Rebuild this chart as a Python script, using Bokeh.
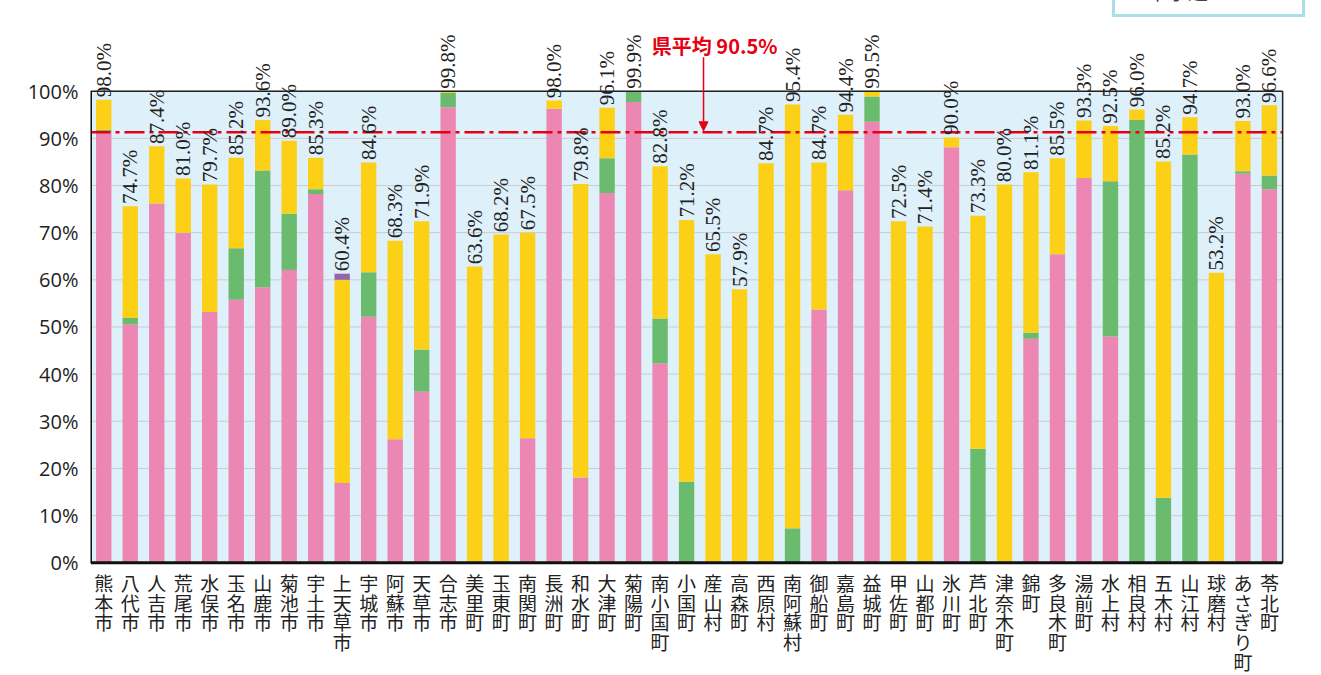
import math
from bokeh.plotting import figure
from bokeh.models import (ColumnDataSource, Range1d, FixedTicker, PrintfTickFormatter,
                          LabelSet, Label, Arrow, NormalHead, Legend, LegendItem, BoxAnnotation)
from bokeh.embed import file_html
from bokeh.resources import INLINE
from bokeh.core.properties import value

municipalities = ["熊本市", "八代市", "人吉市", "荒尾市", "水俣市", "玉名市", "山鹿市", "菊池市", "宇土市",
                  "上天草市", "宇城市", "阿蘇市", "天草市", "合志市", "美里町", "玉東町", "南関町", "長洲町",
                  "和水町", "大津町", "菊陽町", "南小国町", "小国町", "産山村", "高森町", "西原村", "南阿蘇村",
                  "御船町", "嘉島町", "益城町", "甲佐町", "山都町", "氷川町", "芦北町", "津奈木町", "錦町",
                  "多良木町", "湯前町", "水上村", "相良村", "五木村", "山江村", "球磨村", "あさぎり町", "苓北町"]

# 下水道 (pink)
sewer = [91.3, 50.6, 76.2, 70.0, 53.2, 55.8, 58.4, 62.1, 78.2, 16.9, 52.2, 26.2, 36.3, 96.6,
         0, 0, 26.4, 96.3, 18.1, 78.4, 97.7, 42.3, 0, 0, 0, 0, 0, 53.7, 79.0, 93.5,
         0, 0, 88.1, 0, 0, 47.5, 65.4, 81.6, 48.0, 0, 0, 0, 0, 82.5, 79.2]
# 農業集落排水施設等 (green)
rural = [0.5, 1.3, 0, 0, 0, 10.9, 24.8, 11.9, 1.0, 0, 9.4, 0, 8.9, 3.0,
         0, 0, 0, 0, 0, 7.4, 2.3, 9.5, 17.2, 0, 0, 0, 7.3, 0, 0, 5.4,
         0, 0, 0, 24.2, 0, 1.3, 0, 0, 32.9, 93.9, 13.8, 86.6, 0, 0.5, 2.9]
# 合併処理浄化槽 (yellow)
septic = [6.4, 23.7, 12.1, 11.5, 27.0, 19.2, 10.7, 15.5, 6.7, 43.1, 23.3, 42.1, 27.2, 0.4,
          62.8, 69.6, 43.6, 1.7, 62.2, 10.7, 0, 32.3, 55.5, 65.4, 58.0, 84.7, 89.9, 31.2, 16.0, 1.1,
          72.4, 71.3, 2.1, 49.4, 80.2, 34.0, 20.4, 12.2, 11.7, 2.2, 71.3, 7.9, 61.5, 10.7, 14.9]
# コミュニティ・プラント (purple)
community = [0, 0, 0, 0, 0, 0, 0, 0, 0, 1.3, 0, 0, 0, 0,
             0, 0, 0, 0, 0, 0, 0, 0, 0, 0, 0, 0, 0, 0, 0, 0,
             0, 0, 0, 0, 0, 0, 0, 0, 0, 0, 0, 0, 0, 0, 0]
rate_labels = [98.0, 74.7, 87.4, 81.0, 79.7, 85.2, 93.6, 89.0, 85.3, 60.4, 84.6, 68.3, 71.9, 99.8,
               63.6, 68.2, 67.5, 98.0, 79.8, 96.1, 99.9, 82.8, 71.2, 65.5, 57.9, 84.7, 95.4, 84.7, 94.4, 99.5,
               72.5, 71.4, 90.0, 73.3, 80.0, 81.1, 85.5, 93.3, 92.5, 96.0, 85.2, 94.7, 53.2, 93.0, 96.6]
y_ticks = [0, 10, 20, 30, 40, 50, 60, 70, 80, 90, 100]
pref_avg_text = "県平均 90.5%"
pref_avg_drawn = 91.3

series_keys = ["sewer", "rural", "septic", "community"]
series_names = ["下水道", "農業集落排水施設等", "合併処理浄化槽", "コミュニティ・プラント"]
series_colors = ["#ec86b2", "#6abb6d", "#fcd016", "#9467aa"]

n = len(municipalities)
xs = [i + 0.5 for i in range(n)]
totals = [a + b + c + d for a, b, c, d in zip(sewer, rural, septic, community)]
src = ColumnDataSource(dict(
    x=xs, name=municipalities, sewer=sewer, rural=rural, septic=septic, community=community,
    label_y=[t + 0.5 for t in totals],
    label=["%.1f%%" % v for v in rate_labels],
    vname=["\n".join(nm) for nm in municipalities],
))

W, H = 1315, 675
p = figure(x_range=Range1d(0, 46.24), y_range=Range1d(-23.9, 119.23),
           width=W, height=H, output_backend="svg", toolbar_location=None,
           min_border_left=90, min_border_right=0, min_border_top=0, min_border_bottom=0)
p.xaxis.visible = False
p.background_fill_color = "white"
p.border_fill_color = "white"
p.outline_line_color = None
p.xgrid.grid_line_color = None
p.ygrid.grid_line_color = None

# plot area background
p.add_layout(BoxAnnotation(left=0, right=n, bottom=0, top=100, fill_color="#def0fa",
                           fill_alpha=1.0, line_color=None, level="underlay"))
# horizontal grid lines
p.segment(x0=[0] * len(y_ticks), x1=[n] * len(y_ticks), y0=y_ticks, y1=y_ticks,
          line_color="#cccccc", line_width=1)

renderers = p.vbar_stack(series_keys, x="x", width=0.58, color=series_colors,
                         line_color=None, source=src)

# average line
p.segment(x0=[0], x1=[n], y0=[pref_avg_drawn], y1=[pref_avg_drawn], line_color="#e60012",
          line_width=2.5, line_dash="20 5 4 5")

# frame borders
p.segment(x0=[0, n], x1=[n, n], y0=[100, 0], y1=[100, 100], line_color="#222222", line_width=1.5)
p.segment(x0=[0, 0], x1=[0, n], y0=[0, 0], y1=[100, 0], line_color="#111111", line_width=3)

# y axis
p.yaxis.ticker = FixedTicker(ticks=y_ticks)
p.yaxis.formatter = PrintfTickFormatter(format="%d%%")
p.yaxis.major_tick_line_color = None
p.yaxis.minor_tick_line_color = None
p.yaxis.axis_line_color = None
p.yaxis.major_label_text_font = "Open Sans"
p.yaxis.major_label_text_font_size = "20px"
p.yaxis.major_label_text_color = "#222222"
p.yaxis.major_label_standoff = 6

# category labels (vertical writing)
p.text(x="x", y=-1.3, text="vname", source=src, text_align="center", text_baseline="top",
       text_font=value("Noto Sans CJK JP"), text_font_size="19px", text_line_height=0.73,
       text_color="#222222")

# value labels
labels = LabelSet(x="x", y="label_y", text="label", source=src, angle=math.pi / 2,
                  text_align="left", text_baseline="middle", text_font="Open Sans",
                  text_font_size="21px", text_color="#222222")
p.add_layout(labels)

# average annotation
p.add_layout(Arrow(end=NormalHead(size=9, fill_color="#e60012", line_color="#e60012"),
                   x_start=23.14, y_start=107.2, x_end=23.14, y_end=pref_avg_drawn + 0.3,
                   line_color="#e60012", line_width=1.5))
p.add_layout(Label(x=23.56, y=109.6, text=pref_avg_text, text_align="center",
                   text_baseline="middle", text_font="Noto Sans CJK JP", text_font_style="bold",
                   text_font_size="20px", text_color="#e60012"))

# legend (the source shows only the bottom of it, at the top edge)
legend = Legend(items=[LegendItem(label=series_names[0], renderers=[renderers[0]])],
                location=(1022, H - 17), border_line_color="#56bfd3", border_line_width=3,
                label_text_font="Noto Sans CJK JP", label_text_font_size="20px",
                glyph_width=17, glyph_height=17, padding=8, margin=0, label_standoff=8,
                label_width=146, background_fill_color="white", background_fill_alpha=1.0)
p.add_layout(legend, "center")

open("out.html", "w").write(file_html(p, INLINE))
